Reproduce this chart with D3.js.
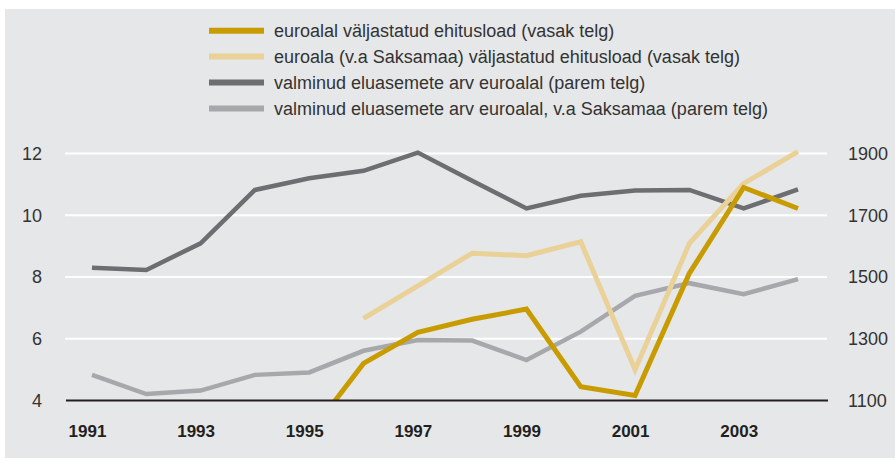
<!DOCTYPE html>
<html>
<head>
<meta charset="utf-8">
<script src="https://cdn.jsdelivr.net/npm/d3@7"></script>
<style>
  html, body { margin: 0; padding: 0; background: #ffffff; }
  svg { display: block; font-family: "Liberation Sans", Arial, Helvetica, sans-serif; }
</style>
</head>
<body>
<svg id="chart" width="895" height="462"></svg>
<script>
// ---- data ----
const years = [1991, 1992, 1993, 1994, 1995, 1996, 1997, 1998, 1999, 2000, 2001, 2002, 2003, 2004];
const permitsEuro      = [null, null, null, null, 2.9, 5.2, 6.21, 6.63, 6.96, 4.45, 4.16, 8.12, 10.9, 10.22];
const permitsExGermany = [null, null, null, null, null, 6.66, 7.71, 8.77, 8.69, 9.14, 5.0, 9.09, 11.03, 12.06];
const completedEuro      = [1530, 1523, 1609, 1782, 1820, 1844, 1903, 1812, 1722, 1763, 1780, 1782, 1722, 1784];
const completedExGermany = [1183, 1121, 1132, 1183, 1191, 1261, 1296, 1294, 1231, 1323, 1439, 1480, 1444, 1493];
const xTickLabels = [1991, 1993, 1995, 1997, 1999, 2001, 2003];
const leftTicks = [4, 6, 8, 10, 12];
const rightTicks = [1100, 1300, 1500, 1700, 1900];
const legendLabels = [
  "euroalal väljastatud ehitusload (vasak telg)",
  "euroala (v.a Saksamaa) väljastatud ehitusload (vasak telg)",
  "valminud eluasemete arv euroalal (parem telg)",
  "valminud eluasemete arv euroalal, v.a Saksamaa (parem telg)"
];

// ---- layout ----
const svg = d3.select("#chart");
const colors = ["#c89c00", "#e9d198", "#6d6e71", "#a7a8ab"];
const widths = [5, 5, 4.5, 4.5];

svg.append("rect").attr("x", 5).attr("y", 9).attr("width", 890).attr("height", 449).attr("fill", "#e6e7e8");

const x = d3.scaleLinear().domain([1991, 2004]).range([92, 798]);
const yL = d3.scaleLinear().domain([4, 12]).range([400.5, 153.5]);
const yR = d3.scaleLinear().domain([1100, 1900]).range([400.5, 153.5]);

// gridlines
svg.append("g").selectAll("line").data(leftTicks.filter(d => d > 4)).join("line")
  .attr("x1", 65).attr("x2", 827)
  .attr("y1", d => yL(d)).attr("y2", d => yL(d))
  .attr("stroke", "#ffffff").attr("stroke-width", 2);

// left axis labels
const leftAxis = d3.axisLeft(yL).tickValues(leftTicks).tickSize(0).tickPadding(0).tickFormat(d3.format("d"));
const gL = svg.append("g").attr("transform", "translate(42,0)").call(leftAxis);
gL.select(".domain").remove();
gL.selectAll("text").attr("font-size", 18).attr("fill", "#333").attr("font-family", "Liberation Sans, Arial, sans-serif");

// right axis labels
const rightAxis = d3.axisRight(yR).tickValues(rightTicks).tickSize(0).tickPadding(0).tickFormat(d3.format("d"));
const gR = svg.append("g").attr("transform", "translate(848,0)").call(rightAxis);
gR.select(".domain").remove();
gR.selectAll("text").attr("font-size", 18).attr("fill", "#333").attr("font-family", "Liberation Sans, Arial, sans-serif");

// bottom axis labels
const bottomAxis = d3.axisBottom(x).tickValues(xTickLabels).tickSize(0).tickPadding(0).tickFormat(d3.format("d"));
const gB = svg.append("g").attr("transform", "translate(-5,425)").call(bottomAxis);
gB.select(".domain").remove();
gB.selectAll("text").attr("font-size", 17).attr("font-weight", "bold").attr("fill", "#231f20")
  .attr("font-family", "Liberation Sans, Arial, sans-serif");

// clip
svg.append("defs").append("clipPath").attr("id", "plotclip")
  .append("rect").attr("x", 60).attr("y", 120).attr("width", 780).attr("height", 281);

const series = [
  { vals: completedExGermany, scale: yR, idx: 3 },
  { vals: completedEuro, scale: yR, idx: 2 },
  { vals: permitsExGermany, scale: yL, idx: 1 },
  { vals: permitsEuro, scale: yL, idx: 0 }
];

const gLines = svg.append("g").attr("clip-path", "url(#plotclip)");
series.forEach(s => {
  const line = d3.line()
    .defined(d => d[1] != null)
    .x(d => x(d[0]))
    .y(d => s.scale(d[1]));
  gLines.append("path")
    .datum(years.map((yr, i) => [yr, s.vals[i]]))
    .attr("d", line)
    .attr("fill", "none")
    .attr("stroke", colors[s.idx])
    .attr("stroke-width", widths[s.idx])
    .attr("stroke-linejoin", "miter")
    .attr("stroke-linecap", "butt");
});

// baseline
svg.append("line").attr("x1", 66).attr("x2", 828).attr("y1", yL(4)).attr("y2", yL(4))
  .attr("stroke", "#231f20").attr("stroke-width", 2);

// legend
const leg = svg.append("g");
legendLabels.forEach((lab, i) => {
  const ly = 30.7 + i * 25.9;
  leg.append("line").attr("x1", 209).attr("x2", 264).attr("y1", ly).attr("y2", ly)
    .attr("stroke", colors[i]).attr("stroke-width", 6);
  leg.append("text").attr("x", 274).attr("y", ly).attr("dy", "0.35em")
    .attr("font-size", 18).attr("fill", "#333").text(lab);
});
</script>
</body>
</html>
